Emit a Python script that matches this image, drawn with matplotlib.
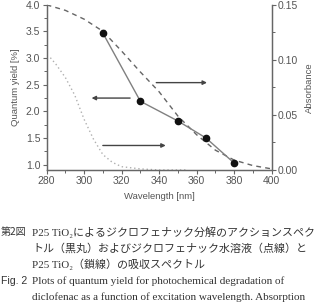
import matplotlib
matplotlib.use("Agg")
import matplotlib.pyplot as plt

# action spectrum (quantum yield, left axis)
qy_wavelength = [310, 330, 350, 365, 380]
qy_values = [3.47, 2.19, 1.82, 1.50, 1.03]
qy_errors = [0.06, 0.0, 0.0, 0.0, 0.0]

# P25 TiO2 absorbance (dashed, right axis)
tio2_wavelength = [280, 290, 300, 310, 320, 330, 340, 350, 360, 370, 380, 390, 400]
tio2_abs = [0.150, 0.145, 0.137, 0.126, 0.108, 0.089, 0.071, 0.049, 0.032, 0.018, 0.009, 0.004, 0.001]

# diclofenac solution absorbance (dotted, right axis)
dcf_wavelength = [282, 285, 290, 295, 300, 305, 310, 315, 320, 330, 340, 355]
dcf_abs = [0.102, 0.096, 0.084, 0.068, 0.046, 0.028, 0.014, 0.007, 0.003, 0.001, 0.0, 0.0]

x_ticks = [280, 300, 320, 340, 360, 380, 400]
left_ticks = [1.0, 1.5, 2.0, 2.5, 3.0, 3.5, 4.0]
right_ticks = [0.00, 0.05, 0.10, 0.15]

caption_jp = [
    "P25 TiO\u2082によるジクロフェナック分解のアクションスペク",
    "トル（黒丸）およびジクロフェナック水溶液（点線）と",
    "P25 TiO\u2082（鎖線）の吸収スペクトル",
]
caption_en = [
    "Plots of quantum yield for photochemical degradation of",
    "diclofenac as a function of excitation wavelength. Absorption",
]

gray = "#555555"
plt.rcParams['font.family'] = ['Liberation Sans', 'DejaVu Sans']

fig = plt.figure(figsize=(3.17, 3.03), dpi=100)
ax = fig.add_axes([0.147, 0.439, 0.710, 0.545])
ax2 = ax.twinx()

ax2.plot(tio2_wavelength, tio2_abs, color="#666666", lw=1.0, ls=(0, (3.5, 3)))
ax2.plot(dcf_wavelength, dcf_abs, color="#b0b0b0", lw=1.0, ls=(0, (1, 2)))
ax2.set_ylim(0, 0.15)

ax.set_zorder(ax2.get_zorder() + 1)
ax.patch.set_visible(False)
ax.errorbar(qy_wavelength, qy_values, yerr=qy_errors, color="#808080", lw=1.0,
            marker="o", ms=4.5, mfc="#111111", mec="#111111", ecolor="#999999",
            elinewidth=0.8, capsize=1.5)
ax.set_xlim(280, 400)
ax.set_ylim(0.9, 4.0)

# arrows pointing to the relevant axis
arrow_kw = dict(arrowstyle="-|>", color="#444444", lw=1.0, mutation_scale=6)
ax.annotate("", xy=(367, 2.54), xytext=(337, 2.54), arrowprops=arrow_kw)
ax.annotate("", xy=(302.5, 2.25), xytext=(326, 2.25), arrowprops=arrow_kw)
ax.annotate("", xy=(345, 1.36), xytext=(308.5, 1.36), arrowprops=arrow_kw)

ax.set_xticks(x_ticks)
ax.set_xticks(range(290, 400, 20), minor=True)
ax.set_yticks(left_ticks)
ax.set_yticks([1.25, 1.75, 2.25, 2.75, 3.25, 3.75], minor=True)
ax.set_yticklabels([f"{v:.1f}" for v in left_ticks])
ax2.set_yticks(right_ticks)
ax2.set_yticks([0.025, 0.075, 0.125], minor=True)
ax2.set_yticklabels([f"{v:.2f}" for v in right_ticks])

for a in (ax, ax2):
    a.spines["top"].set_visible(False)
    for s in a.spines.values():
        s.set_color("#666666")
        s.set_linewidth(0.9)
    a.tick_params(which="major", length=3, width=0.8, color="#666666",
                  labelsize=7.5, labelcolor=gray, pad=1.5)
    a.tick_params(which="minor", length=2, width=0.7, color="#666666")

ax.set_xlabel("Wavelength [nm]", fontsize=6.8, color=gray, labelpad=4)
ax.set_ylabel("Quantum yield [%]", fontsize=6.8, color=gray, labelpad=4)
ax2.set_ylabel("Absorbance", fontsize=6.8, color=gray, labelpad=5)

# caption
jp_fam = ['Liberation Serif', 'Noto Sans CJK JP', 'DejaVu Sans']
fig.text(1 / 317, 1 - 232 / 303, "第2図", fontsize=7.2, color="#333333",
         family=['Noto Sans CJK JP'], va="center")
for i, line in enumerate(caption_jp):
    fig.text(32 / 317, 1 - (232 + 16 * i) / 303, line, fontsize=7.9,
             color="#333333", family=jp_fam, va="center")
fig.text(1 / 317, 1 - 281 / 303, "Fig. 2", fontsize=7.6, color="#333333",
         family=['Liberation Sans'], va="center")
for i, line in enumerate(caption_en):
    fig.text(32 / 317, 1 - (281 + 16 * i) / 303, line, fontsize=8.0,
             color="#333333", family=['Liberation Serif'], va="center")

fig.savefig("out.png", dpi=100)
